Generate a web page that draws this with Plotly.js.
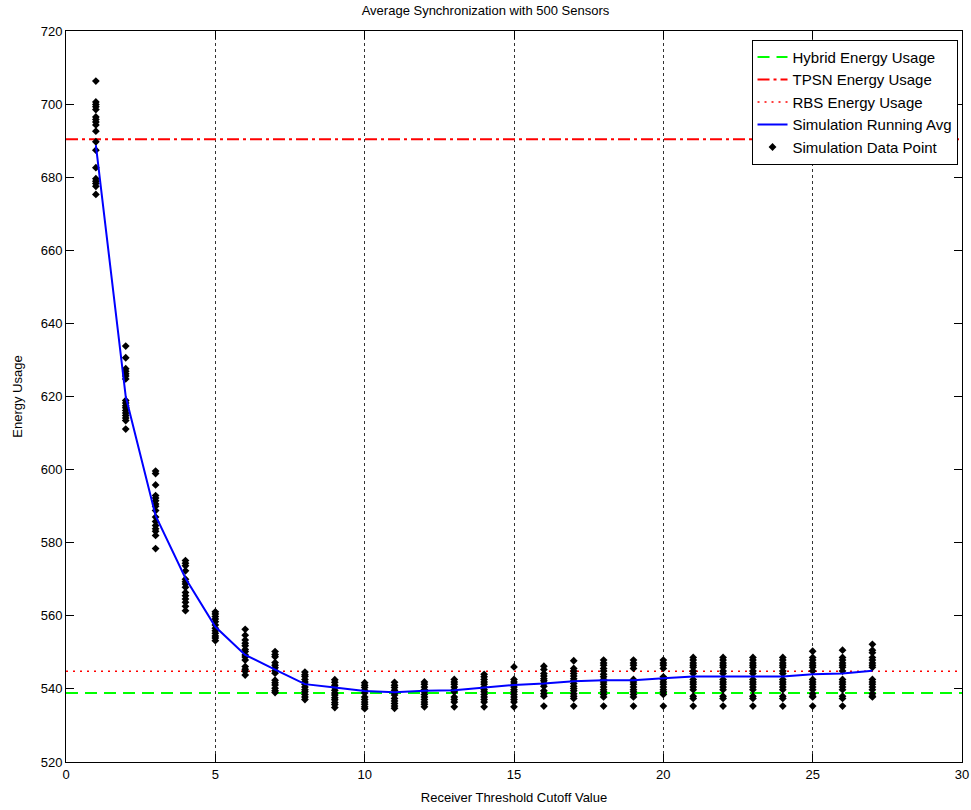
<!DOCTYPE html>
<html>
<head>
<meta charset="utf-8">
<script src="https://cdn.plot.ly/plotly-3.0.1.min.js"></script>
<style>
  html, body { margin: 0; padding: 0; background: #fff; }
  #chart { width: 971px; height: 810px; }
</style>
</head>
<body>
<div id="chart"></div>
<script>
// Receiver threshold cutoff values that were simulated
const cutoffs = [1, 2, 3, 4, 5, 6, 7, 8, 9, 10, 11, 12, 13, 14, 15, 16, 17, 18, 19, 20, 21, 22, 23, 24, 25, 26, 27];

// Individual simulation runs, one list per cutoff value
const runsByCutoff = [
  [706.3, 700.6, 699.9, 699.3, 698.5, 696.5, 695.8, 695.1, 694.3, 692.6, 689.7, 687.4, 682.6, 679.6, 678.9, 678.3, 677.5, 675.3],
  [633.8, 630.6, 627.6, 626.9, 626.2, 625.6, 624.8, 618.9, 618.2, 617.5, 616.9, 616.2, 615.5, 614.8, 614.1, 613.4, 611.1],
  [599.6, 598.9, 595.8, 592.9, 592.2, 591.5, 590.6, 590.0, 588.8, 587.0, 585.8, 584.7, 583.8, 583.1, 582.0, 578.4],
  [575.1, 574.4, 573.7, 572.3, 570.0, 569.3, 568.7, 567.8, 566.4, 565.5, 564.6, 563.7, 562.6, 561.4],
  [561.1, 560.5, 559.8, 559.1, 558.4, 557.5, 556.6, 555.9, 555.2, 554.5, 553.9, 553.2],
  [556.3, 554.7, 553.4, 552.5, 551.8, 550.8, 550.2, 549.3, 548.7, 547.9, 546.1, 545.4, 544.8, 543.8],
  [550.2, 549.4, 548.8, 547.2, 546.5, 545.8, 545.0, 544.3, 542.4, 541.7, 541.1, 540.2, 539.5, 539.0],
  [544.6, 543.9, 543.4, 542.6, 541.9, 541.3, 540.5, 539.8, 539.2, 538.5, 537.8, 537.1],
  [542.5, 541.8, 541.0, 540.4, 539.6, 538.9, 538.3, 537.6, 537.0, 536.3, 535.7, 534.9],
  [541.7, 541.0, 540.4, 539.6, 538.9, 537.8, 537.1, 536.4, 535.8, 535.1, 534.6],
  [541.8, 541.0, 540.4, 539.6, 538.9, 538.3, 537.4, 536.7, 536.0, 535.3, 534.7],
  [541.9, 541.3, 540.5, 539.8, 539.2, 538.5, 537.8, 537.1, 536.4, 535.8, 535.1],
  [542.6, 541.9, 541.3, 540.5, 539.8, 539.2, 537.8, 537.1, 536.4, 535.1],
  [544.0, 543.3, 542.6, 541.9, 541.3, 540.5, 539.8, 539.2, 538.5, 537.8, 537.1, 536.4, 535.1],
  [546.0, 542.6, 541.9, 541.3, 540.5, 539.8, 539.2, 538.5, 537.8, 537.1, 536.4, 535.1],
  [546.2, 545.3, 544.2, 543.5, 542.8, 542.2, 541.5, 540.7, 539.5, 538.7, 538.0, 535.3],
  [547.7, 545.6, 544.9, 544.2, 543.5, 542.8, 542.2, 541.5, 540.7, 540.1, 539.5, 538.7, 538.0, 537.4, 535.3],
  [547.9, 547.1, 546.5, 545.6, 544.9, 544.0, 543.3, 542.6, 541.9, 541.3, 540.5, 539.8, 539.2, 538.5, 537.8, 535.3],
  [547.9, 547.1, 546.5, 545.6, 542.6, 541.9, 541.3, 540.5, 539.8, 539.2, 538.5, 537.8, 535.3],
  [547.9, 547.1, 546.5, 545.6, 543.3, 542.6, 541.9, 541.3, 540.5, 539.8, 539.2, 538.5, 535.3],
  [548.6, 547.9, 547.1, 546.5, 545.9, 544.9, 544.2, 542.6, 541.9, 541.3, 540.5, 539.8, 538.0, 537.4, 535.3],
  [548.6, 547.9, 547.1, 546.5, 545.9, 544.9, 544.2, 542.6, 541.9, 541.3, 540.5, 539.8, 538.0, 537.4, 535.3],
  [548.6, 547.9, 547.1, 546.5, 545.9, 544.9, 544.2, 542.6, 541.9, 541.3, 540.5, 539.8, 538.0, 537.4, 535.3],
  [548.6, 547.9, 547.1, 546.5, 545.9, 544.9, 544.2, 542.6, 541.9, 541.3, 540.5, 539.8, 538.0, 537.4, 535.3],
  [550.3, 548.6, 547.9, 547.1, 546.5, 545.9, 544.9, 542.6, 541.9, 541.3, 540.5, 539.8, 538.7, 538.0, 537.8, 535.3],
  [550.6, 548.6, 547.9, 547.1, 546.5, 545.9, 544.9, 542.6, 541.9, 541.3, 540.5, 539.8, 538.0, 537.4, 535.3],
  [552.2, 550.6, 549.9, 548.6, 547.9, 547.1, 546.5, 545.9, 542.6, 541.9, 541.3, 540.5, 539.8, 538.7, 538.0, 537.8]
];

// Running average of the simulation at each cutoff
const runningAvg = [688.8, 620.0, 587.4, 570.3, 557.0, 549.3, 545.3, 541.3, 540.4, 539.4, 539.1, 539.5, 539.6,
                    540.4, 541.1, 541.5, 542.1, 542.4, 542.4, 542.9, 543.4, 543.4, 543.4, 543.4, 544.0, 544.2, 545.0];

// Reference protocol energy levels
const hybridEnergy = 538.9;
const tpsnEnergy = 690.4;
const rbsEnergy = 544.8;
const xSpan = [0, 30];

// Flatten the runs into scatter coordinates
const pointX = [];
const pointY = [];
runsByCutoff.forEach((runs, i) => {
  runs.forEach(v => { pointX.push(cutoffs[i]); pointY.push(v); });
});

const font = 'Liberation Sans, Arial, Helvetica, sans-serif';

const traces = [
  {
    x: xSpan, y: [hybridEnergy, hybridEnergy], mode: 'lines', name: 'Hybrid Energy Usage',
    line: { color: '#00ff00', width: 2, dash: '12px,7px' }, legendrank: 1
  },
  {
    x: xSpan, y: [tpsnEnergy, tpsnEnergy], mode: 'lines', name: 'TPSN Energy Usage',
    line: { color: '#ff0000', width: 2, dash: '12px,4px,3px,4px' }, legendrank: 2
  },
  {
    x: xSpan, y: [rbsEnergy, rbsEnergy], mode: 'lines', name: 'RBS Energy Usage',
    line: { color: '#ff0000', width: 1.5, dash: '2px,5px' }, legendrank: 3
  },
  {
    x: pointX, y: pointY, mode: 'markers', name: 'Simulation Data Point',
    marker: { symbol: 'diamond', size: 6, color: '#000000' }, legendrank: 5
  },
  {
    x: cutoffs, y: runningAvg, mode: 'lines', name: 'Simulation Running Avg',
    line: { color: '#0000ff', width: 2 }, legendrank: 4
  }
];

const axisCommon = {
  showline: true, linecolor: '#000', linewidth: 1, mirror: 'ticks',
  ticks: 'inside', ticklen: 8, tickcolor: '#000', tickwidth: 1,
  zeroline: false, tickfont: { family: font, size: 13, color: '#000' }
};

const layout = {
  width: 971, height: 810,
  margin: { l: 66, r: 9, t: 31, b: 48 },
  paper_bgcolor: '#ffffff', plot_bgcolor: '#ffffff',
  font: { family: font, size: 13, color: '#000' },
  title: { text: 'Average Synchronization with 500 Sensors', x: 0.5, xanchor: 'center', y: 0.9925, yanchor: 'top',
           font: { family: font, size: 13, color: '#000' } },
  xaxis: Object.assign({}, axisCommon, {
    range: [0, 30], tick0: 0, dtick: 5,
    showgrid: true, gridcolor: '#333', griddash: 'dot', gridwidth: 1,
    title: { text: 'Receiver Threshold Cutoff Value', standoff: 12, font: { family: font, size: 13, color: '#000' } }
  }),
  yaxis: Object.assign({}, axisCommon, {
    range: [520, 720], tick0: 520, dtick: 20, showgrid: false,
    title: { text: 'Energy Usage', standoff: 15, font: { family: font, size: 13, color: '#000' } }
  }),
  legend: {
    x: 0.995, y: 0.988, xanchor: 'right', yanchor: 'top',
    bgcolor: '#ffffff', bordercolor: '#000', borderwidth: 1,
    font: { family: font, size: 15, color: '#000' }
  },
  showlegend: true
};

Plotly.newPlot('chart', traces, layout, { displayModeBar: false, staticPlot: true });
</script>
</body>
</html>
